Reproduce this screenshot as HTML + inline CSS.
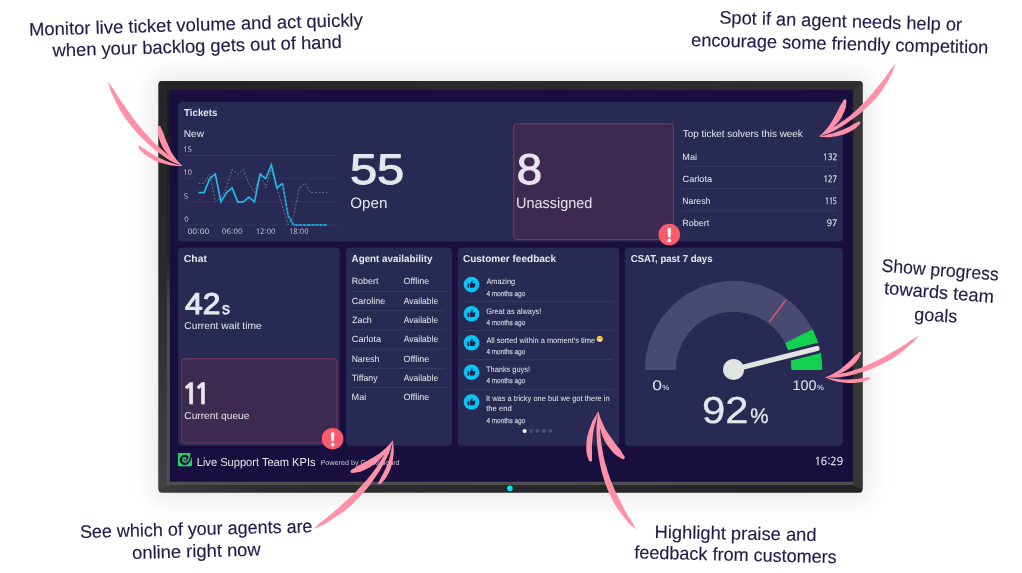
<!DOCTYPE html>
<html lang="en"><head><meta charset="utf-8"><title>Live Support Team KPIs</title>
<style>
html,body{margin:0;padding:0;background:#fff;}
body{width:1022px;height:573px;position:relative;overflow:hidden;font-family:"Liberation Sans",sans-serif;text-rendering:geometricPrecision;}
#glow{position:absolute;left:162.5px;top:84.9px;width:696.0px;height:403.9px;border-radius:6px;box-shadow:0 0 24px 12px rgba(0,0,0,0.085);}
svg{position:absolute;left:0;top:0;}
.t{position:absolute;white-space:pre;line-height:1;color:#e6e6ec;}
</style></head>
<body>
<div id="glow"></div>
<svg width="1022" height="573" viewBox="0 0 1022 573">
<defs><linearGradient id="lb" x1="0" y1="0" x2="0" y2="1"><stop offset="0" stop-color="#262628"/><stop offset="0.45" stop-color="#29292b"/><stop offset="1" stop-color="#424244"/></linearGradient><linearGradient id="ls" x1="0" y1="0" x2="0" y2="1"><stop offset="0" stop-color="#1d1d1f"/><stop offset="0.42" stop-color="#232325"/><stop offset="0.55" stop-color="#4a4a4c"/><stop offset="1" stop-color="#505052"/></linearGradient></defs>
<defs><linearGradient id="tb" x1="0" y1="0" x2="1" y2="0"><stop offset="0" stop-color="#242426"/><stop offset="1" stop-color="#303032"/></linearGradient></defs>
<defs><linearGradient id="bb" x1="0" y1="0" x2="1" y2="0"><stop offset="0" stop-color="#3c3c3e"/><stop offset="0.15" stop-color="#2d2d2f"/><stop offset="1" stop-color="#232325"/></linearGradient></defs>
<rect x="158.5" y="80.9" width="704.0" height="411.9" rx="3.5" fill="url(#bb)" />
<path d="M162.0,80.9 L859.0,80.9 Q862.5,80.9 862.5,84.4 L852.2,89.9 L169.9,89.9 L158.5,84.4 Q158.5,80.9 162.0,80.9 Z" fill="url(#tb)"/>
<path d="M158.5,84.4 L169.9,89.9 L169.9,485.0 L158.5,489.3 Z" fill="url(#lb)"/>
<path d="M852.2,89.9 L862.5,83.9 L862.5,489.8 L852.2,485.0 Z" fill="#363638"/>
<rect x="852.2" y="89.9" width="1.2" height="395.1" rx="0" fill="#1f1f21" />
<rect x="166.9" y="89.9" width="3.0" height="395.1" rx="0" fill="url(#ls)" />
<rect x="166.9" y="481.6" width="686.8" height="3.4" rx="0" fill="#4e4e50" />
<rect x="169.9" y="89.9" width="682.3" height="391.7" rx="0" fill="#180f3e" />
<circle cx="509.9" cy="488.2" r="2.8" fill="#04e4fb"/>
<rect x="178" y="102" width="664.8" height="139.6" rx="4" fill="#282a53" />
<rect x="178" y="247.8" width="161.8" height="197.9" rx="4" fill="#282a53" />
<rect x="346" y="247.8" width="106.1" height="197.9" rx="4" fill="#282a53" />
<rect x="457.8" y="247.8" width="161.5" height="197.9" rx="4" fill="#282a53" />
<rect x="624.8" y="247.8" width="217.9" height="197.9" rx="4" fill="#282a53" />
<rect x="513.8" y="123.8" width="159.5" height="115.8" rx="2.5" fill="#3c2a51" stroke="#7c3c5d" stroke-width="1"/>
<rect x="181.8" y="358.8" width="155.0" height="84.2" rx="2.5" fill="#3c2a51" stroke="#7c3c5d" stroke-width="1"/>
<circle cx="669.3" cy="234.5" r="10.8" fill="#f75b6d"/>
<path d="M667.60,228.50 Q669.30,227.60 671.00,228.50 L670.55,236.90 Q669.30,237.60 668.05,236.90 Z" fill="#fff"/>
<circle cx="669.3" cy="240.40" r="1.85" fill="#fff"/>
<circle cx="332.6" cy="438.7" r="10.8" fill="#f75b6d"/>
<path d="M330.90,432.70 Q332.60,431.80 334.30,432.70 L333.85,441.10 Q332.60,441.80 331.35,441.10 Z" fill="#fff"/>
<circle cx="332.6" cy="444.60" r="1.85" fill="#fff"/>
<line x1="184.2" y1="225.0" x2="338.0" y2="225.0" stroke="#36385f" stroke-width="0.8"/>
<line x1="184.2" y1="201.8" x2="338.0" y2="201.8" stroke="#36385f" stroke-width="0.8"/>
<line x1="184.2" y1="178.7" x2="338.0" y2="178.7" stroke="#36385f" stroke-width="0.8"/>
<line x1="184.2" y1="155.5" x2="338.0" y2="155.5" stroke="#36385f" stroke-width="0.8"/>
<polyline points="198.5,183.3 204.1,183.3 209.7,174.0 215.3,201.8 220.9,197.2 226.5,187.9 232.1,169.4 237.7,174.0 243.3,169.4 248.9,183.3 254.5,192.6 260.1,174.0 265.7,187.9 271.3,169.4 276.9,187.9 282.5,206.5 288.1,225.0 293.7,215.7 299.3,187.9 304.9,183.3 310.5,192.6 316.1,192.6 321.7,192.6 327.3,192.6" fill="none" stroke="#82829c" stroke-width="0.8" stroke-dasharray="2 1.7" stroke-linejoin="round"/>
<polyline points="198.5,192.6 204.1,192.6 209.7,178.7 215.3,174.0 220.9,201.8 226.5,192.6 232.1,187.9 237.7,201.8 243.3,201.8 248.9,197.2 254.5,201.8 260.1,174.0 265.7,178.7 271.3,164.8 276.9,187.9 282.5,183.3" fill="none" stroke="#1db9ea" stroke-width="1.7" stroke-linejoin="miter"/>
<polyline points="282.5,183.3 288.1,215.7 293.7,225.0 299.3,225.0 304.9,225.0 310.5,225.0 316.1,225.0 321.7,225.0 327.3,225.0" fill="none" stroke="#1a7aa6" stroke-width="1.5"/>
<polyline points="282.5,183.3 288.1,215.7 293.7,225.0 299.3,225.0 304.9,225.0 310.5,225.0 316.1,225.0 321.7,225.0 327.3,225.0" fill="none" stroke="#1eb4e4" stroke-width="1.6" stroke-dasharray="2.6 1.5"/>
<line x1="683" y1="166.4" x2="836.5" y2="166.4" stroke="#3b3d66" stroke-width="0.8"/>
<line x1="683" y1="188.7" x2="836.5" y2="188.7" stroke="#3b3d66" stroke-width="0.8"/>
<line x1="683" y1="211.0" x2="836.5" y2="211.0" stroke="#3b3d66" stroke-width="0.8"/>
<line x1="352" y1="291.5" x2="445.5" y2="291.5" stroke="#3b3d66" stroke-width="0.8"/>
<line x1="352" y1="310.7" x2="445.5" y2="310.7" stroke="#3b3d66" stroke-width="0.8"/>
<line x1="352" y1="329.9" x2="445.5" y2="329.9" stroke="#3b3d66" stroke-width="0.8"/>
<line x1="352" y1="349.1" x2="445.5" y2="349.1" stroke="#3b3d66" stroke-width="0.8"/>
<line x1="352" y1="368.3" x2="445.5" y2="368.3" stroke="#3b3d66" stroke-width="0.8"/>
<line x1="352" y1="387.5" x2="445.5" y2="387.5" stroke="#3b3d66" stroke-width="0.8"/>
<line x1="463.7" y1="301.3" x2="613" y2="301.3" stroke="#3b3d66" stroke-width="0.8"/>
<line x1="463.7" y1="330.6" x2="613" y2="330.6" stroke="#3b3d66" stroke-width="0.8"/>
<line x1="463.7" y1="359.7" x2="613" y2="359.7" stroke="#3b3d66" stroke-width="0.8"/>
<line x1="463.7" y1="389.3" x2="613" y2="389.3" stroke="#3b3d66" stroke-width="0.8"/>
<circle cx="471.5" cy="284.6" r="7.8" fill="#05c7f7"/>
<g transform="translate(467.2,280.0) scale(0.365)" fill="#1f2350"><rect x="0.5" y="10" width="5" height="11.5" rx="0.8"/><path d="M7.5,10.2 L11.6,3.2 C12,2 13.4,1.6 14.4,2.3 C15.4,3 15.6,4.2 15.2,5.4 L14,9 L20.2,9 C21.8,9 22.9,10.5 22.5,12 L20.6,19.4 C20.3,20.6 19.2,21.5 18,21.5 L7.5,21.5 Z"/></g>
<circle cx="471.5" cy="313.8" r="7.8" fill="#05c7f7"/>
<g transform="translate(467.2,309.2) scale(0.365)" fill="#1f2350"><rect x="0.5" y="10" width="5" height="11.5" rx="0.8"/><path d="M7.5,10.2 L11.6,3.2 C12,2 13.4,1.6 14.4,2.3 C15.4,3 15.6,4.2 15.2,5.4 L14,9 L20.2,9 C21.8,9 22.9,10.5 22.5,12 L20.6,19.4 C20.3,20.6 19.2,21.5 18,21.5 L7.5,21.5 Z"/></g>
<circle cx="471.5" cy="342.8" r="7.8" fill="#05c7f7"/>
<g transform="translate(467.2,338.2) scale(0.365)" fill="#1f2350"><rect x="0.5" y="10" width="5" height="11.5" rx="0.8"/><path d="M7.5,10.2 L11.6,3.2 C12,2 13.4,1.6 14.4,2.3 C15.4,3 15.6,4.2 15.2,5.4 L14,9 L20.2,9 C21.8,9 22.9,10.5 22.5,12 L20.6,19.4 C20.3,20.6 19.2,21.5 18,21.5 L7.5,21.5 Z"/></g>
<circle cx="471.5" cy="372.3" r="7.8" fill="#05c7f7"/>
<g transform="translate(467.2,367.7) scale(0.365)" fill="#1f2350"><rect x="0.5" y="10" width="5" height="11.5" rx="0.8"/><path d="M7.5,10.2 L11.6,3.2 C12,2 13.4,1.6 14.4,2.3 C15.4,3 15.6,4.2 15.2,5.4 L14,9 L20.2,9 C21.8,9 22.9,10.5 22.5,12 L20.6,19.4 C20.3,20.6 19.2,21.5 18,21.5 L7.5,21.5 Z"/></g>
<circle cx="471.5" cy="402.0" r="7.8" fill="#05c7f7"/>
<g transform="translate(467.2,397.4) scale(0.365)" fill="#1f2350"><rect x="0.5" y="10" width="5" height="11.5" rx="0.8"/><path d="M7.5,10.2 L11.6,3.2 C12,2 13.4,1.6 14.4,2.3 C15.4,3 15.6,4.2 15.2,5.4 L14,9 L20.2,9 C21.8,9 22.9,10.5 22.5,12 L20.6,19.4 C20.3,20.6 19.2,21.5 18,21.5 L7.5,21.5 Z"/></g>
<circle cx="524.6" cy="431" r="2.1" fill="#f2f2f6"/>
<circle cx="531.0" cy="431" r="2.1" fill="#4b4c74"/>
<circle cx="537.5" cy="431" r="2.1" fill="#4b4c74"/>
<circle cx="543.9" cy="431" r="2.1" fill="#4b4c74"/>
<circle cx="550.2" cy="431" r="2.1" fill="#4b4c74"/>
<path d="M645.40,369.50 A88.2,88.2 0 0 1 812.19,329.46 L785.55,343.03 A58.3,58.3 0 0 0 675.30,369.50 Z" fill="#484a72" stroke="#484a72" stroke-width="1.0" stroke-linejoin="round"/>
<path d="M812.37,329.83 A88.2,88.2 0 0 1 821.80,369.50 L791.90,369.50 A58.3,58.3 0 0 0 785.67,343.28 Z" fill="#12d151" stroke="#12d151" stroke-width="1.0" stroke-linejoin="round"/>
<line x1="769.2" y1="322.1" x2="786.0" y2="299.8" stroke="#f75b6d" stroke-width="1.3"/>
<line x1="733.6" y1="369.5" x2="817.0" y2="348.5" stroke="#282a53" stroke-width="10.6" stroke-linecap="round"/>
<circle cx="733.6" cy="369.5" r="12.4" fill="#282a53"/>
<line x1="733.6" y1="369.5" x2="817.0" y2="348.5" stroke="#e3e3e3" stroke-width="5.2" stroke-linecap="round"/>
<circle cx="733.6" cy="369.5" r="10.6" fill="#e3e3e3"/>
<g><rect x="177.9" y="452.9" width="14.1" height="13.3" rx="0.7" fill="#19d65e"/><circle cx="184.9" cy="459.9" r="5.2" fill="#180f3e"/><path d="M190.6,452.9 L192,452.9 L192,456.8 L189.9,462.0 L188.6,460.6 Z" fill="#180f3e"/><path d="M189.3,453.6 C189.5,456.8 188.8,459.6 187.3,461.2 C185.8,462.7 183.4,462.2 182.9,460.2 C182.5,458.5 184.0,457.2 185.2,457.9 C186.1,458.5 185.7,459.6 185.0,459.7" fill="none" stroke="#19d65e" stroke-width="1.45" stroke-linecap="round"/></g>
</svg>
<svg width="1022" height="573" viewBox="0 0 1022 573" font-family="'Liberation Sans',sans-serif" fill="#e6e6ec" text-rendering="geometricPrecision">
<text transform="translate(184.11,116) scale(0.958,1)"  font-size="10.1" font-weight="700">Tickets</text>
<text transform="translate(183.82,137) scale(1.008,1)"  font-size="10">New</text>
<text transform="translate(183.20,152)"  font-size="7.3" font-family="'NanumGothic','Liberation Sans',sans-serif" fill="#dedee8">15</text>
<text transform="translate(183.20,175)"  font-size="7.3" font-family="'NanumGothic','Liberation Sans',sans-serif" fill="#dedee8">10</text>
<text transform="translate(183.84,199)"  font-size="7.3" font-family="'NanumGothic','Liberation Sans',sans-serif" fill="#dedee8">5</text>
<text transform="translate(184.16,222)"  font-size="7.3" font-family="'NanumGothic','Liberation Sans',sans-serif" fill="#dedee8">0</text>
<text transform="translate(187.51,234) scale(1.084,1)"  font-size="7.4" font-family="'NanumGothic','Liberation Sans',sans-serif" fill="#dedee8">00:00</text>
<text transform="translate(221.52,234) scale(1.053,1)"  font-size="7.4" font-family="'NanumGothic','Liberation Sans',sans-serif" fill="#dedee8">06:00</text>
<text transform="translate(255.73,234) scale(0.975,1)"  font-size="7.4" font-family="'NanumGothic','Liberation Sans',sans-serif" fill="#dedee8">12:00</text>
<text transform="translate(289.05,234) scale(0.964,1)"  font-size="7.4" font-family="'NanumGothic','Liberation Sans',sans-serif" fill="#dedee8">18:00</text>
<text transform="translate(349.89,184) scale(1.137,1)"  font-size="43" stroke="#e6e6ec" stroke-width="1.0" stroke-linejoin="round">55</text>
<text transform="translate(350.30,208) scale(1.012,1)"  font-size="15">Open</text>
<text transform="translate(516.67,184) scale(1.061,1)"  font-size="43" stroke="#e6e6ec" stroke-width="1.0" stroke-linejoin="round">8</text>
<text transform="translate(516.11,208) scale(0.963,1)"  font-size="15">Unassigned</text>
<text transform="translate(682.74,137) scale(0.991,1)"  font-size="10">Top ticket solvers this week</text>
<text transform="translate(682.32,160) scale(1.012,1)"  font-size="9.0">Mai</text>
<text transform="translate(822.80,160) scale(0.917,1)"  font-size="8.7" font-family="'NanumGothic','Liberation Sans',sans-serif" stroke="#e6e6ec" stroke-width="0.2" stroke-linejoin="round">132</text>
<text transform="translate(682.56,182) scale(1.017,1)"  font-size="9.0">Carlota</text>
<text transform="translate(823.50,182) scale(0.850,1)"  font-size="8.7" font-family="'NanumGothic','Liberation Sans',sans-serif" stroke="#e6e6ec" stroke-width="0.2" stroke-linejoin="round">127</text>
<text transform="translate(682.35,204) scale(0.963,1)"  font-size="9.0">Naresh</text>
<text transform="translate(824.95,204) scale(0.752,1)"  font-size="8.7" font-family="'NanumGothic','Liberation Sans',sans-serif" stroke="#e6e6ec" stroke-width="0.2" stroke-linejoin="round">115</text>
<text transform="translate(682.33,226)"  font-size="9.0">Robert</text>
<text transform="translate(826.79,226) scale(0.982,1)"  font-size="8.7" font-family="'NanumGothic','Liberation Sans',sans-serif" stroke="#e6e6ec" stroke-width="0.2" stroke-linejoin="round">97</text>
<text transform="translate(183.80,262) scale(1.032,1)"  font-size="10.1" font-weight="700">Chat</text>
<text transform="translate(185.09,314) scale(1.060,1)"  font-size="30" stroke="#e6e6ec" stroke-width="1.1" stroke-linejoin="round">42</text>
<text transform="translate(221.92,314) scale(0.964,1)"  font-size="16.5" stroke="#e6e6ec" stroke-width="0.6" stroke-linejoin="round">s</text>
<text transform="translate(184.30,329) scale(1.024,1)"  font-size="10">Current wait time</text>
<text transform="translate(181.48,404) scale(1.045,1)"  font-size="28.5" font-weight="700" font-family="'NanumGothic','Liberation Sans',sans-serif" letter-spacing="-6" stroke="#e6e6ec" stroke-width="0.5" stroke-linejoin="round">11</text>
<text transform="translate(184.30,419) scale(1.019,1)"  font-size="10">Current queue</text>
<text transform="translate(196.71,466) scale(0.957,1)"  font-size="11.6">Live Support Team KPIs</text>
<text transform="translate(320.57,465) scale(1.026,1)"  font-size="7" fill="#c9c9d6">Powered by Geckoboard</text>
<text transform="translate(351.53,262) scale(0.974,1)"  font-size="10.1" font-weight="700">Agent availability</text>
<text transform="translate(351.63,284) scale(0.995,1)"  font-size="9.0">Robert</text>
<text transform="translate(403.50,284) scale(0.995,1)"  font-size="9.0">Offline</text>
<text transform="translate(351.87,304) scale(0.994,1)"  font-size="9.0">Caroline</text>
<text transform="translate(403.72,304) scale(0.946,1)"  font-size="9.0">Available</text>
<text transform="translate(351.97,323) scale(0.992,1)"  font-size="9.0">Zach</text>
<text transform="translate(403.72,323) scale(0.946,1)"  font-size="9.0">Available</text>
<text transform="translate(351.86,342) scale(1.010,1)"  font-size="9.0">Carlota</text>
<text transform="translate(403.72,342) scale(0.946,1)"  font-size="9.0">Available</text>
<text transform="translate(351.66,362) scale(0.956,1)"  font-size="9.0">Naresh</text>
<text transform="translate(403.50,362) scale(0.995,1)"  font-size="9.0">Offline</text>
<text transform="translate(351.78,381) scale(0.970,1)"  font-size="9.0">Tiffany</text>
<text transform="translate(403.72,381) scale(0.946,1)"  font-size="9.0">Available</text>
<text transform="translate(351.62,400) scale(1.012,1)"  font-size="9.0">Mai</text>
<text transform="translate(403.50,400) scale(0.995,1)"  font-size="9.0">Offline</text>
<text transform="translate(462.91,262) scale(0.994,1)"  font-size="10.1" font-weight="700">Customer feedback</text>
<text transform="translate(486.38,284) scale(0.936,1)"  font-size="7.9">Amazing</text>
<text transform="translate(486.47,296) scale(0.889,1)"  font-size="7.2" fill="#c3c3d2" stroke="#c3c3d2" stroke-width="0.25" stroke-linejoin="round">4 months ago</text>
<text transform="translate(486.25,314) scale(0.938,1)"  font-size="7.9">Great as always!</text>
<text transform="translate(486.47,325) scale(0.889,1)"  font-size="7.2" fill="#c3c3d2" stroke="#c3c3d2" stroke-width="0.25" stroke-linejoin="round">4 months ago</text>
<text transform="translate(486.38,343) scale(0.945,1)"  font-size="7.9">All sorted within a moment's time</text>
<text transform="translate(486.47,354) scale(0.889,1)"  font-size="7.2" fill="#c3c3d2" stroke="#c3c3d2" stroke-width="0.25" stroke-linejoin="round">4 months ago</text>
<text transform="translate(486.11,372) scale(0.934,1)"  font-size="7.9">Thanks guys!</text>
<text transform="translate(486.47,383) scale(0.889,1)"  font-size="7.2" fill="#c3c3d2" stroke="#c3c3d2" stroke-width="0.25" stroke-linejoin="round">4 months ago</text>
<text transform="translate(485.96,401) scale(0.950,1)"  font-size="7.9">It was a tricky one but we got there in</text>
<text transform="translate(486.19,411) scale(0.972,1)"  font-size="7.9">the end</text>
<text transform="translate(486.47,423) scale(0.889,1)"  font-size="7.2" fill="#c3c3d2" stroke="#c3c3d2" stroke-width="0.25" stroke-linejoin="round">4 months ago</text>
<text transform="translate(630.83,262) scale(0.947,1)"  font-size="10.1" font-weight="700">CSAT, past 7 days</text>
<text transform="translate(652.15,390) scale(1.246,1)"  font-size="14">0</text>
<text transform="translate(662.37,390) scale(1.045,1)"  font-size="7.5">%</text>
<text transform="translate(792.42,390) scale(1.028,1)"  font-size="14">100</text>
<text transform="translate(816.98,390) scale(1.028,1)"  font-size="7.5">%</text>
<text transform="translate(702.01,423) scale(1.113,1)"  font-size="37.5" stroke="#e6e6ec" stroke-width="0.3" stroke-linejoin="round">92</text>
<text transform="translate(750.33,423) scale(0.978,1)"  font-size="21" stroke="#e6e6ec" stroke-width="0.3" stroke-linejoin="round">%</text>
<text transform="translate(814.47,465) scale(0.954,1)"  font-size="11.0" font-family="'NanumGothic','Liberation Sans',sans-serif" stroke="#e6e6ec" stroke-width="0.2" stroke-linejoin="round">16:29</text>
<text transform="translate(30.68,35.70) rotate(-1.67) scale(1.013,1)" x="-1.43" y="0" font-size="18.2" fill="#1f1b4b" stroke="#1f1b4b" stroke-width="0.15" stroke-linejoin="round">Monitor live ticket volume and act quickly</text>
<text transform="translate(53.08,56.60) rotate(-1.71) scale(1.007,1)" x="-0.22" y="0" font-size="18.2" fill="#1f1b4b" stroke="#1f1b4b" stroke-width="0.15" stroke-linejoin="round">when your backlog gets out of hand</text>
<text transform="translate(720.28,23.50) rotate(1.73)" x="-1.04" y="0" font-size="18.2" fill="#1f1b4b" stroke="#1f1b4b" stroke-width="0.15" stroke-linejoin="round">Spot if an agent needs help or</text>
<text transform="translate(691.78,45.90) rotate(1.49)" x="-0.75" y="0" font-size="18.2" fill="#1f1b4b" stroke="#1f1b4b" stroke-width="0.15" stroke-linejoin="round">encourage some friendly competition</text>
<text transform="translate(882.18,271.70) rotate(4.41) scale(0.968,1)" x="-1.04" y="0" font-size="18.2" fill="#1f1b4b" stroke="#1f1b4b" stroke-width="0.15" stroke-linejoin="round">Show progress</text>
<text transform="translate(884.38,294.00) rotate(4.67) scale(1.007,1)" x="-0.58" y="0" font-size="18.2" fill="#1f1b4b" stroke="#1f1b4b" stroke-width="0.15" stroke-linejoin="round">towards team</text>
<text transform="translate(914.78,320.20) rotate(3.31) scale(0.987,1)" x="-0.74" y="0" font-size="18.2" fill="#1f1b4b" stroke="#1f1b4b" stroke-width="0.15" stroke-linejoin="round">goals</text>
<text transform="translate(81.17,537.90) rotate(-1.39) scale(0.987,1)" x="-1.04" y="0" font-size="18.2" fill="#1f1b4b" stroke="#1f1b4b" stroke-width="0.15" stroke-linejoin="round">See which of your agents are</text>
<text transform="translate(132.97,559.00) rotate(-1.57) scale(1.010,1)" x="-0.75" y="0" font-size="18.2" fill="#1f1b4b" stroke="#1f1b4b" stroke-width="0.15" stroke-linejoin="round">online right now</text>
<text transform="translate(655.88,538.10) rotate(1.01) scale(1.008,1)" x="-1.43" y="0" font-size="18.2" fill="#1f1b4b" stroke="#1f1b4b" stroke-width="0.15" stroke-linejoin="round">Highlight praise and</text>
<text transform="translate(634.78,558.50) rotate(1.31) scale(0.991,1)" x="-0.56" y="0" font-size="18.2" fill="#1f1b4b" stroke="#1f1b4b" stroke-width="0.15" stroke-linejoin="round">feedback from customers</text>
</svg>
<div class="t" style="left:596.6px;top:337.2px;font-size:6px;color:#e6ae1f;">😁</div>
<svg width="1022" height="573" viewBox="0 0 1022 573">
<path d="M107.8,81.7 L108.9,85.1 L109.8,88.6 L111.0,91.9 L112.5,95.0 L114.0,98.2 L115.5,101.3 L117.0,104.3 L118.6,107.3 L120.2,110.3 L121.9,113.2 L123.7,116.0 L125.6,118.7 L127.5,121.3 L129.5,123.9 L131.6,126.5 L133.6,128.9 L135.7,131.4 L137.8,133.8 L139.9,136.1 L142.1,138.3 L144.4,140.5 L146.7,142.6 L149.0,144.7 L151.3,146.7 L153.7,148.7 L156.0,150.6 L158.4,152.5 L160.9,154.3 L163.3,156.1 L165.8,157.8 L168.3,159.4 L170.9,161.0 L173.6,162.4 L176.4,163.6 L179.2,164.8 L181.9,166.0 L182.1,165.6 L179.7,163.9 L177.3,162.0 L175.1,160.1 L172.8,158.2 L170.4,156.5 L168.0,154.7 L165.7,152.9 L163.5,151.0 L161.2,149.1 L159.0,147.1 L156.8,145.1 L154.6,143.1 L152.5,141.0 L150.4,138.8 L148.4,136.6 L146.4,134.3 L144.4,132.0 L142.4,129.7 L140.4,127.4 L138.4,125.0 L136.5,122.5 L134.6,120.0 L132.8,117.5 L130.9,114.9 L129.1,112.3 L127.2,109.7 L125.3,107.0 L123.4,104.4 L121.5,101.7 L119.6,98.9 L117.7,96.1 L115.9,93.2 L114.2,90.2 L112.2,87.4 L110.0,84.5 L108.0,81.5Z M182.1,165.6 L181.2,164.8 L180.3,164.0 L179.4,163.1 L178.6,162.2 L177.8,161.2 L177.0,160.3 L176.3,159.3 L175.6,158.3 L174.9,157.4 L174.2,156.4 L173.5,155.4 L172.8,154.4 L172.1,153.4 L171.5,152.4 L171.0,151.3 L170.5,150.2 L170.0,149.1 L169.5,148.0 L169.0,146.9 L168.5,145.8 L168.0,144.7 L167.6,143.6 L167.0,142.5 L166.5,141.4 L166.1,140.2 L165.6,139.1 L165.1,137.9 L164.7,136.8 L164.3,135.6 L163.9,134.4 L163.5,133.2 L163.0,132.0 L162.4,130.8 L161.7,129.6 L161.2,128.4 L160.7,127.1 L160.5,126.6 L160.1,126.1 L159.6,125.9 L159.0,125.9 L158.4,126.1 L158.0,126.5 L157.8,127.1 L157.8,127.7 L157.8,129.1 L157.9,130.5 L157.8,131.9 L157.9,133.3 L158.0,134.7 L158.3,136.0 L158.7,137.4 L159.1,138.7 L159.6,140.0 L160.0,141.2 L160.5,142.5 L161.0,143.7 L161.5,145.0 L162.1,146.2 L162.7,147.4 L163.4,148.5 L164.1,149.6 L164.9,150.7 L165.7,151.7 L166.5,152.8 L167.4,153.7 L168.2,154.7 L169.1,155.7 L169.9,156.6 L170.8,157.6 L171.7,158.5 L172.6,159.4 L173.5,160.2 L174.5,161.0 L175.6,161.8 L176.6,162.5 L177.6,163.2 L178.7,163.9 L179.8,164.6 L180.8,165.3 L181.9,166.0Z M182.0,165.6 L181.0,165.5 L179.9,165.3 L178.8,165.0 L177.7,164.7 L176.6,164.4 L175.4,164.1 L174.3,163.7 L173.1,163.3 L172.0,162.9 L170.8,162.5 L169.6,162.2 L168.4,161.8 L167.2,161.3 L166.0,160.9 L164.8,160.4 L163.6,159.8 L162.4,159.3 L161.2,158.7 L160.0,158.1 L158.8,157.5 L157.6,156.9 L156.4,156.3 L155.2,155.7 L154.0,155.1 L152.9,154.4 L151.7,153.8 L150.6,153.1 L149.4,152.4 L148.4,151.6 L147.3,150.9 L146.2,150.1 L145.1,149.4 L143.9,148.7 L142.8,148.0 L141.7,147.3 L140.7,146.4 L140.3,146.1 L139.8,146.0 L139.3,146.1 L138.8,146.4 L138.6,146.9 L138.4,147.4 L138.6,147.9 L138.8,148.3 L139.8,149.4 L140.7,150.4 L141.6,151.5 L142.6,152.5 L143.6,153.5 L144.7,154.4 L145.9,155.2 L147.0,156.0 L148.2,156.8 L149.5,157.5 L150.7,158.3 L151.9,159.0 L153.2,159.6 L154.4,160.3 L155.7,160.9 L157.0,161.4 L158.3,161.9 L159.7,162.4 L161.0,162.8 L162.3,163.2 L163.6,163.6 L164.9,163.9 L166.2,164.3 L167.5,164.6 L168.8,164.9 L170.1,165.2 L171.4,165.4 L172.6,165.6 L173.9,165.7 L175.1,165.8 L176.3,165.9 L177.5,165.9 L178.7,166.0 L179.8,166.0 L180.9,166.0 L182.0,166.0Z" fill="#fe90a8"/>
<path d="M895.5,63.4 L894.5,66.4 L893.6,69.5 L892.4,72.3 L891.0,75.1 L889.5,77.8 L888.1,80.5 L886.6,83.1 L885.0,85.8 L883.4,88.3 L881.7,90.9 L879.9,93.3 L878.0,95.6 L876.1,97.9 L874.1,100.1 L872.0,102.3 L870.0,104.5 L867.8,106.6 L865.7,108.7 L863.5,110.7 L861.2,112.6 L858.9,114.5 L856.5,116.3 L854.1,118.1 L851.7,119.8 L849.2,121.6 L846.8,123.3 L844.2,124.9 L841.6,126.5 L839.0,128.0 L836.4,129.5 L833.7,130.9 L831.0,132.3 L828.1,133.5 L825.2,134.5 L822.2,135.5 L819.3,136.6 L819.1,136.2 L821.8,134.7 L824.4,133.0 L827.0,131.3 L829.5,129.6 L832.1,128.1 L834.7,126.5 L837.2,124.9 L839.6,123.3 L842.0,121.6 L844.4,119.9 L846.8,118.1 L849.1,116.4 L851.3,114.5 L853.5,112.6 L855.7,110.7 L857.8,108.7 L859.8,106.7 L861.9,104.7 L863.9,102.7 L865.9,100.6 L867.9,98.5 L869.8,96.3 L871.7,94.1 L873.5,91.9 L875.3,89.6 L877.2,87.4 L879.0,85.1 L880.9,82.9 L882.7,80.6 L884.6,78.2 L886.3,75.8 L888.0,73.3 L889.7,70.8 L891.5,68.3 L893.5,65.9 L895.3,63.4Z M819.1,136.2 L820.0,135.5 L821.0,134.8 L821.8,134.0 L822.7,133.2 L823.5,132.3 L824.3,131.5 L825.1,130.6 L825.8,129.7 L826.6,128.8 L827.4,127.9 L828.1,127.0 L828.9,126.1 L829.6,125.1 L830.3,124.1 L830.9,123.1 L831.5,122.1 L832.1,121.0 L832.7,120.0 L833.3,118.9 L833.8,117.9 L834.4,116.8 L835.0,115.8 L835.6,114.7 L836.2,113.7 L836.8,112.6 L837.4,111.5 L837.9,110.4 L838.5,109.3 L839.0,108.2 L839.5,107.1 L840.0,105.9 L840.7,104.9 L841.4,103.8 L842.1,102.7 L842.8,101.6 L843.3,100.4 L843.6,99.9 L844.1,99.5 L844.7,99.3 L845.3,99.3 L845.8,99.6 L846.2,100.1 L846.4,100.7 L846.4,101.3 L846.2,102.6 L846.1,104.0 L846.0,105.4 L845.8,106.8 L845.6,108.1 L845.1,109.4 L844.6,110.6 L844.1,111.9 L843.5,113.1 L842.9,114.3 L842.3,115.5 L841.7,116.7 L841.1,117.9 L840.4,119.0 L839.7,120.1 L838.9,121.2 L838.1,122.2 L837.2,123.2 L836.3,124.2 L835.4,125.1 L834.5,126.0 L833.5,126.9 L832.6,127.8 L831.7,128.6 L830.7,129.5 L829.8,130.3 L828.8,131.1 L827.8,131.8 L826.8,132.5 L825.7,133.2 L824.6,133.8 L823.6,134.4 L822.5,134.9 L821.4,135.5 L820.4,136.0 L819.3,136.6Z M819.2,136.2 L820.2,136.1 L821.2,136.0 L822.3,135.8 L823.3,135.7 L824.3,135.4 L825.4,135.2 L826.5,134.9 L827.6,134.6 L828.6,134.3 L829.7,134.1 L830.9,133.8 L832.0,133.5 L833.1,133.2 L834.2,132.9 L835.3,132.5 L836.4,132.1 L837.6,131.7 L838.7,131.3 L839.8,130.8 L840.9,130.4 L842.0,129.9 L843.1,129.4 L844.2,129.0 L845.3,128.5 L846.4,128.0 L847.5,127.5 L848.5,126.9 L849.6,126.4 L850.6,125.8 L851.7,125.2 L852.7,124.6 L853.8,124.0 L854.9,123.5 L855.9,123.0 L857.0,122.4 L858.0,121.7 L858.5,121.4 L859.1,121.4 L859.6,121.5 L860.1,121.9 L860.4,122.4 L860.4,123.0 L860.3,123.5 L859.9,124.0 L859.0,124.9 L858.1,125.8 L857.2,126.8 L856.3,127.7 L855.3,128.6 L854.2,129.3 L853.1,130.0 L851.9,130.6 L850.8,131.2 L849.6,131.8 L848.4,132.4 L847.3,132.9 L846.1,133.5 L844.9,133.9 L843.7,134.4 L842.4,134.8 L841.2,135.1 L840.0,135.4 L838.7,135.7 L837.5,136.0 L836.3,136.2 L835.0,136.4 L833.8,136.6 L832.6,136.8 L831.4,136.9 L830.2,137.1 L829.1,137.2 L827.9,137.2 L826.7,137.2 L825.6,137.1 L824.5,137.1 L823.4,137.0 L822.3,136.9 L821.2,136.8 L820.2,136.7 L819.2,136.6Z" fill="#fe90a8"/>
<path d="M918.6,336.0 L916.4,338.4 L914.3,340.9 L912.0,343.3 L909.6,345.3 L907.2,347.3 L904.8,349.3 L902.4,351.3 L900.0,353.2 L897.5,355.1 L895.0,356.8 L892.5,358.5 L889.9,360.0 L887.3,361.4 L884.7,362.8 L882.1,364.1 L879.4,365.4 L876.8,366.6 L874.2,367.8 L871.5,368.9 L868.8,369.9 L866.2,370.9 L863.5,371.7 L860.8,372.5 L858.1,373.3 L855.4,374.1 L852.7,374.8 L850.0,375.4 L847.3,375.9 L844.6,376.4 L841.8,376.8 L839.1,377.2 L836.4,377.6 L833.7,377.6 L830.9,377.6 L828.1,377.4 L825.4,377.4 L825.4,377.0 L828.1,376.6 L830.7,376.0 L833.4,375.3 L836.0,374.7 L838.6,374.2 L841.3,373.6 L843.9,373.0 L846.5,372.4 L849.1,371.7 L851.7,370.9 L854.2,370.1 L856.8,369.3 L859.4,368.4 L861.9,367.4 L864.5,366.3 L867.0,365.3 L869.5,364.1 L872.0,363.0 L874.5,361.8 L877.1,360.6 L879.6,359.3 L882.1,357.9 L884.6,356.5 L887.1,355.1 L889.6,353.6 L892.1,352.1 L894.7,350.7 L897.2,349.2 L899.8,347.7 L902.4,346.1 L905.0,344.4 L907.6,342.7 L910.1,340.8 L912.8,339.2 L915.7,337.6 L918.4,335.8Z M825.4,377.0 L826.5,376.7 L827.5,376.4 L828.6,376.0 L829.6,375.5 L830.7,375.0 L831.7,374.5 L832.7,374.0 L833.7,373.4 L834.6,372.9 L835.6,372.3 L836.6,371.8 L837.6,371.2 L838.5,370.6 L839.5,369.9 L840.4,369.2 L841.3,368.5 L842.2,367.8 L843.0,367.0 L843.9,366.2 L844.8,365.5 L845.6,364.7 L846.5,363.9 L847.4,363.2 L848.3,362.4 L849.2,361.6 L850.0,360.8 L850.9,360.0 L851.7,359.2 L852.5,358.3 L853.3,357.4 L854.2,356.6 L855.1,355.8 L856.1,355.0 L857.0,354.2 L858.0,353.4 L858.8,352.5 L859.2,352.1 L859.7,351.9 L860.2,351.9 L860.6,352.2 L861.0,352.5 L861.2,353.0 L861.1,353.5 L860.9,354.0 L860.3,355.1 L859.7,356.3 L859.2,357.5 L858.6,358.6 L857.9,359.7 L857.1,360.8 L856.2,361.7 L855.4,362.7 L854.5,363.6 L853.6,364.5 L852.7,365.4 L851.7,366.2 L850.8,367.1 L849.8,367.9 L848.8,368.7 L847.8,369.4 L846.7,370.1 L845.7,370.7 L844.6,371.3 L843.5,371.9 L842.4,372.4 L841.3,372.9 L840.1,373.4 L839.0,373.9 L837.9,374.4 L836.8,374.9 L835.7,375.3 L834.6,375.7 L833.4,376.0 L832.3,376.2 L831.1,376.5 L830.0,376.7 L828.8,376.9 L827.7,377.0 L826.6,377.2 L825.4,377.4Z M825.5,377.0 L826.4,377.3 L827.4,377.6 L828.4,377.8 L829.4,378.0 L830.5,378.2 L831.6,378.3 L832.7,378.5 L833.8,378.6 L834.9,378.7 L836.1,378.9 L837.3,379.0 L838.5,379.2 L839.7,379.3 L840.9,379.4 L842.1,379.4 L843.4,379.4 L844.6,379.5 L845.9,379.5 L847.1,379.4 L848.4,379.4 L849.7,379.4 L850.9,379.3 L852.2,379.3 L853.5,379.2 L854.7,379.1 L856.0,379.0 L857.3,378.9 L858.5,378.7 L859.7,378.5 L861.0,378.3 L862.2,378.1 L863.4,377.9 L864.6,377.8 L865.9,377.6 L867.1,377.4 L868.2,377.1 L868.7,377.1 L869.1,377.2 L869.5,377.4 L869.7,377.8 L869.8,378.2 L869.7,378.7 L869.4,379.0 L869.0,379.3 L867.8,379.8 L866.6,380.3 L865.4,380.8 L864.2,381.3 L863.0,381.7 L861.7,382.0 L860.3,382.2 L859.0,382.4 L857.7,382.6 L856.4,382.7 L855.0,382.9 L853.7,383.0 L852.4,383.0 L851.0,383.1 L849.7,383.1 L848.4,383.0 L847.0,382.9 L845.7,382.8 L844.4,382.7 L843.1,382.5 L841.8,382.3 L840.6,382.1 L839.3,381.9 L838.1,381.7 L836.9,381.4 L835.7,381.2 L834.5,380.9 L833.4,380.6 L832.3,380.2 L831.2,379.8 L830.1,379.4 L829.1,379.0 L828.1,378.6 L827.2,378.2 L826.2,377.7 L825.3,377.4Z" fill="#fe90a8"/>
<path d="M313.5,529.0 L317.0,527.5 L320.5,526.1 L323.9,524.4 L327.0,522.4 L330.1,520.5 L333.2,518.5 L336.3,516.6 L339.3,514.6 L342.2,512.5 L345.0,510.4 L347.8,508.2 L350.4,505.9 L352.9,503.5 L355.4,501.1 L357.8,498.7 L360.2,496.2 L362.5,493.8 L364.7,491.3 L366.9,488.7 L369.0,486.1 L371.0,483.5 L372.9,480.8 L374.8,478.1 L376.6,475.4 L378.4,472.7 L380.2,470.0 L381.8,467.2 L383.4,464.4 L384.9,461.6 L386.4,458.7 L387.8,455.8 L389.1,452.9 L390.2,449.9 L391.1,446.8 L392.0,443.7 L392.9,440.7 L392.5,440.5 L391.0,443.3 L389.4,446.1 L387.7,448.7 L386.1,451.4 L384.6,454.2 L383.0,456.9 L381.4,459.6 L379.7,462.2 L378.0,464.8 L376.3,467.4 L374.5,470.0 L372.6,472.6 L370.7,475.1 L368.7,477.5 L366.6,480.0 L364.5,482.4 L362.3,484.8 L360.2,487.1 L357.9,489.5 L355.7,491.9 L353.3,494.2 L350.9,496.5 L348.5,498.7 L346.0,501.0 L343.4,503.2 L340.9,505.5 L338.4,507.8 L335.8,510.1 L333.1,512.5 L330.5,514.8 L327.7,517.0 L324.8,519.3 L321.9,521.4 L319.0,523.8 L316.3,526.4 L313.3,528.8Z M392.5,440.5 L391.8,441.6 L391.0,442.6 L390.1,443.7 L389.2,444.7 L388.3,445.6 L387.3,446.6 L386.3,447.5 L385.3,448.4 L384.3,449.3 L383.3,450.2 L382.2,451.1 L381.2,452.0 L380.1,452.9 L379.0,453.7 L377.8,454.5 L376.6,455.3 L375.4,456.0 L374.2,456.7 L373.0,457.4 L371.8,458.2 L370.5,458.9 L369.3,459.6 L368.1,460.4 L366.9,461.1 L365.6,461.8 L364.4,462.5 L363.1,463.2 L361.8,463.9 L360.5,464.5 L359.2,465.1 L357.9,465.8 L356.7,466.6 L355.5,467.4 L354.2,468.3 L353.0,469.1 L351.6,469.7 L351.1,470.1 L350.7,470.6 L350.5,471.2 L350.6,471.9 L350.9,472.4 L351.4,472.9 L352.0,473.0 L352.7,473.0 L354.2,472.7 L355.8,472.5 L357.3,472.3 L358.9,472.0 L360.5,471.7 L361.9,471.1 L363.3,470.5 L364.8,469.8 L366.2,469.1 L367.5,468.4 L368.9,467.7 L370.3,466.9 L371.6,466.1 L372.9,465.3 L374.2,464.4 L375.4,463.5 L376.6,462.5 L377.7,461.5 L378.9,460.4 L379.9,459.3 L381.0,458.2 L382.0,457.2 L383.0,456.1 L384.0,455.0 L385.0,453.9 L385.9,452.8 L386.8,451.6 L387.6,450.5 L388.4,449.3 L389.2,448.0 L389.9,446.8 L390.5,445.6 L391.1,444.4 L391.7,443.1 L392.3,441.9 L392.9,440.7Z M392.5,440.6 L392.5,441.7 L392.4,442.9 L392.3,444.0 L392.1,445.2 L392.0,446.3 L391.8,447.5 L391.5,448.6 L391.3,449.8 L391.1,451.0 L390.8,452.1 L390.6,453.3 L390.4,454.5 L390.1,455.7 L389.8,456.8 L389.5,458.0 L389.1,459.2 L388.7,460.3 L388.3,461.5 L387.9,462.6 L387.5,463.8 L387.0,464.9 L386.6,466.1 L386.1,467.3 L385.7,468.4 L385.2,469.5 L384.6,470.7 L384.1,471.8 L383.5,472.9 L382.9,474.0 L382.3,475.1 L381.7,476.2 L381.1,477.3 L380.5,478.5 L379.9,479.7 L379.3,480.8 L378.6,481.9 L378.3,482.4 L378.3,482.9 L378.4,483.5 L378.8,483.9 L379.3,484.2 L379.8,484.2 L380.3,484.1 L380.8,483.7 L381.7,482.7 L382.7,481.7 L383.7,480.7 L384.6,479.7 L385.5,478.6 L386.3,477.5 L387.0,476.3 L387.6,475.1 L388.2,473.9 L388.8,472.7 L389.4,471.4 L389.9,470.2 L390.4,469.0 L390.9,467.7 L391.3,466.5 L391.7,465.2 L392.0,463.9 L392.3,462.6 L392.6,461.3 L392.8,460.1 L393.0,458.8 L393.2,457.5 L393.3,456.2 L393.5,455.0 L393.6,453.7 L393.7,452.5 L393.8,451.2 L393.8,450.0 L393.7,448.8 L393.7,447.6 L393.5,446.4 L393.4,445.2 L393.3,444.0 L393.2,442.9 L393.0,441.7 L392.9,440.6Z" fill="#fe90a8"/>
<path d="M636.1,529.6 L633.5,527.2 L630.7,524.9 L628.2,522.4 L626.0,519.7 L623.9,517.0 L621.7,514.2 L619.6,511.4 L617.6,508.6 L615.7,505.7 L613.9,502.7 L612.2,499.7 L610.7,496.6 L609.3,493.4 L607.9,490.2 L606.6,487.0 L605.4,483.7 L604.3,480.4 L603.2,477.1 L602.2,473.7 L601.3,470.3 L600.6,466.8 L599.9,463.4 L599.2,459.9 L598.6,456.3 L598.1,452.8 L597.6,449.2 L597.2,445.6 L597.0,441.9 L596.7,438.2 L596.6,434.5 L596.5,430.8 L596.5,427.0 L596.8,423.2 L597.2,419.4 L597.7,415.6 L598.2,411.7 L598.6,411.7 L598.7,415.6 L599.1,419.4 L599.5,423.2 L599.9,426.9 L600.1,430.6 L600.4,434.3 L600.7,437.9 L601.1,441.5 L601.6,445.0 L602.2,448.6 L602.8,452.0 L603.4,455.5 L604.2,458.9 L605.0,462.2 L605.9,465.5 L606.9,468.8 L607.9,472.0 L609.0,475.2 L610.1,478.4 L611.2,481.5 L612.5,484.6 L613.8,487.7 L615.1,490.8 L616.6,493.8 L618.1,496.7 L619.5,499.7 L621.0,502.7 L622.5,505.7 L624.0,508.7 L625.6,511.7 L627.3,514.6 L629.1,517.5 L631.0,520.3 L632.8,523.3 L634.4,526.4 L636.3,529.4Z M598.6,411.7 L598.9,413.0 L599.2,414.4 L599.6,415.7 L600.0,417.0 L600.5,418.3 L601.0,419.6 L601.6,420.9 L602.1,422.2 L602.7,423.5 L603.3,424.7 L603.8,426.0 L604.4,427.3 L605.0,428.5 L605.7,429.8 L606.5,431.0 L607.3,432.2 L608.1,433.3 L608.9,434.5 L609.7,435.7 L610.6,436.8 L611.4,438.0 L612.2,439.1 L613.0,440.3 L613.8,441.5 L614.6,442.7 L615.5,443.9 L616.4,445.0 L617.3,446.2 L618.2,447.3 L619.2,448.4 L620.1,449.6 L620.9,450.8 L621.7,452.2 L622.4,453.5 L623.3,454.8 L624.2,456.0 L624.7,456.5 L624.8,457.2 L624.7,458.0 L624.4,458.6 L623.8,459.0 L623.1,459.2 L622.4,459.1 L621.7,458.7 L620.4,457.8 L619.0,457.0 L617.6,456.2 L616.2,455.3 L614.9,454.3 L613.8,453.2 L612.7,452.0 L611.7,450.8 L610.7,449.6 L609.7,448.3 L608.7,447.1 L607.8,445.8 L606.9,444.5 L606.0,443.2 L605.2,441.8 L604.5,440.5 L603.8,439.0 L603.2,437.6 L602.6,436.2 L602.1,434.7 L601.6,433.2 L601.2,431.8 L600.7,430.3 L600.3,428.9 L599.8,427.5 L599.4,426.0 L599.1,424.6 L598.8,423.1 L598.6,421.7 L598.5,420.2 L598.4,418.8 L598.3,417.4 L598.2,415.9 L598.2,414.5 L598.2,413.1 L598.2,411.7Z M598.6,411.8 L598.2,412.9 L597.8,414.0 L597.4,415.2 L597.0,416.4 L596.7,417.6 L596.4,418.9 L596.1,420.1 L595.8,421.4 L595.5,422.7 L595.1,424.0 L594.8,425.3 L594.4,426.6 L594.1,427.9 L593.9,429.2 L593.6,430.6 L593.4,431.9 L593.2,433.3 L593.0,434.7 L592.9,436.0 L592.7,437.4 L592.6,438.8 L592.4,440.2 L592.3,441.5 L592.1,442.9 L592.0,444.3 L592.0,445.7 L591.9,447.0 L591.9,448.4 L592.0,449.8 L592.0,451.2 L592.1,452.5 L592.1,453.9 L592.0,455.3 L592.0,456.7 L592.0,458.1 L592.1,459.4 L592.2,460.1 L591.9,460.8 L591.5,461.3 L590.9,461.5 L590.2,461.6 L589.6,461.3 L589.1,460.9 L588.8,460.3 L588.3,458.8 L587.8,457.4 L587.3,456.0 L586.9,454.5 L586.5,453.0 L586.4,451.5 L586.3,450.0 L586.3,448.5 L586.3,447.0 L586.3,445.5 L586.4,444.0 L586.5,442.5 L586.6,441.0 L586.8,439.5 L587.0,438.0 L587.3,436.5 L587.6,435.1 L588.0,433.7 L588.4,432.2 L588.9,430.8 L589.3,429.5 L589.8,428.1 L590.3,426.8 L590.8,425.4 L591.2,424.1 L591.8,422.8 L592.3,421.6 L592.9,420.3 L593.6,419.1 L594.2,418.0 L594.9,416.9 L595.6,415.8 L596.3,414.7 L596.9,413.6 L597.6,412.6 L598.2,411.6Z" fill="#fe90a8"/>
</svg>
</body></html>
